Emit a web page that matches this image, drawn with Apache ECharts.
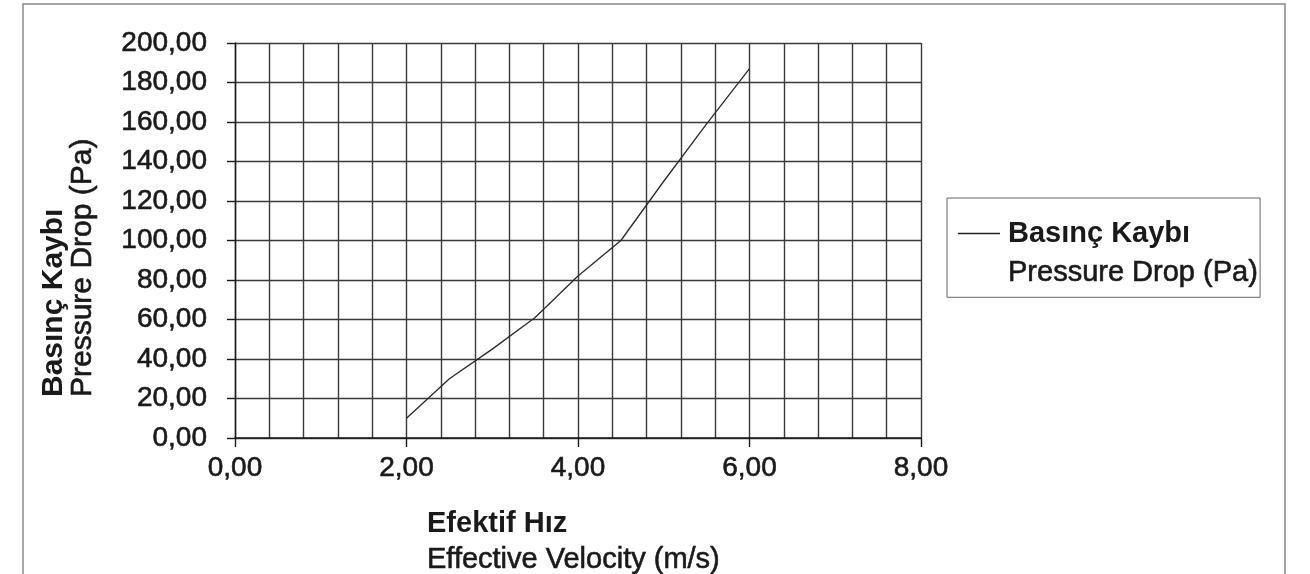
<!DOCTYPE html>
<html>
<head>
<meta charset="utf-8">
<script src="https://cdn.jsdelivr.net/npm/echarts@6/dist/echarts.min.js"></script>
<style>
  html, body { margin: 0; padding: 0; background: #fff; }
  #chart { width: 1310px; height: 574px; }
</style>
</head>
<body>
<div id="chart"></div>
<script>
// ---- data ----
const velocity = [2.0, 2.5, 3.0, 3.5, 4.0, 4.5, 5.0, 5.5, 6.0];
const pressureDrop = [10, 30, 45, 61, 82, 100, 130, 159, 187];
const seriesName = 'Basınç Kaybı';
const seriesSubName = 'Pressure Drop (Pa)';
const xTitleBold = 'Efektif Hız';
const xTitle = 'Effective Velocity (m/s)';
const yTitleBold = 'Basınç Kaybı';
const yTitle = 'Pressure Drop (Pa)';

const FONT = '"Liberation Sans", Arial, Helvetica, sans-serif';
const INK = '#1a1a1a';
const fmt = v => v.toFixed(2).replace('.', ',');

const chart = echarts.init(document.getElementById('chart'), null, { renderer: 'canvas' });

const gridLine = { color: '#3a3a3a', width: 1.4 };
const thick = { textBorderColor: INK, textBorderWidth: 0.6 };

chart.setOption({
  animation: false,
  backgroundColor: '#fff',
  grid: { left: 235, right: 389, top: 43, bottom: 136, outerBoundsMode: 'none', containLabel: false },
  xAxis: {
    type: 'value', min: 0, max: 8, interval: 2,
    axisLine: { show: true, lineStyle: { color: INK, width: 1.6 } },
    axisTick: { show: true, length: 9, inside: false, lineStyle: { color: INK, width: 1.4 } },
    minorTick: { show: false, splitNumber: 5 },
    splitLine: { show: true, lineStyle: gridLine },
    minorSplitLine: { show: true, lineStyle: gridLine },
    axisLabel: Object.assign({ formatter: fmt, fontSize: 28, fontFamily: FONT, color: INK, margin: 16 }, thick)
  },
  yAxis: {
    type: 'value', min: 0, max: 200, interval: 20,
    axisLine: { show: true, lineStyle: { color: INK, width: 1.4 } },
    axisTick: { show: true, length: 8, inside: false, lineStyle: { color: INK, width: 1.4 } },
    splitLine: { show: true, lineStyle: gridLine },
    axisLabel: Object.assign({ formatter: fmt, fontSize: 28, fontFamily: FONT, color: INK, margin: 28 }, thick)
  },
  legend: {
    left: 947, top: 198, orient: 'vertical',
    padding: [21, 2, 10, 6],
    borderColor: '#666', borderWidth: 1,
    icon: 'rect', itemWidth: 0, itemHeight: 0, textGap: 0, itemGap: 0,
    selectedMode: false,
    data: [seriesName],
    formatter: name => '{ln|}{sp|}{b|' + name + '}\n{ind|}{r|' + seriesSubName + '}',
    textStyle: {
      fontFamily: FONT, color: INK,
      rich: {
        ln: { width: 42, height: 1.4, backgroundColor: '#222' },
        sp: { width: 8 },
        ind: { width: 50 },
        b: { fontSize: 29, fontWeight: 'bold', fontFamily: FONT, color: INK, lineHeight: 39 },
        r: Object.assign({ fontSize: 29, fontFamily: FONT, color: INK, lineHeight: 39 }, thick)
      }
    }
  },
  series: [{
    name: seriesName,
    type: 'line',
    data: velocity.map((v, i) => [v, pressureDrop[i]]),
    symbol: 'none',
    lineStyle: { color: '#2a2a2a', width: 1.3 },
    itemStyle: { color: '#2a2a2a' }
  }],
  graphic: [
    { type: 'rect', silent: true, z: -1,
      shape: { x: 23, y: 4, width: 1262, height: 640 },
      style: { fill: 'none', stroke: '#888', lineWidth: 1.5 } },
    { type: 'text', x: 427, y: 524,
      style: { text: xTitleBold, font: 'bold 29px ' + FONT, fill: INK, textAlign: 'left', textVerticalAlign: 'middle' } },
    { type: 'text', x: 427, y: 560,
      style: { text: xTitle, font: '29px ' + FONT, fill: INK, stroke: INK, lineWidth: 0.6, textAlign: 'left', textVerticalAlign: 'middle' } },
    { type: 'text', x: 54, y: 397, rotation: Math.PI / 2,
      style: { text: yTitleBold, font: 'bold 30px ' + FONT, fill: INK, textAlign: 'left', textVerticalAlign: 'middle' } },
    { type: 'text', x: 83, y: 397, rotation: Math.PI / 2,
      style: { text: yTitle, font: '30px ' + FONT, fill: INK, stroke: INK, lineWidth: 0.6, textAlign: 'left', textVerticalAlign: 'middle' } }
  ]
});
</script>
</body>
</html>
